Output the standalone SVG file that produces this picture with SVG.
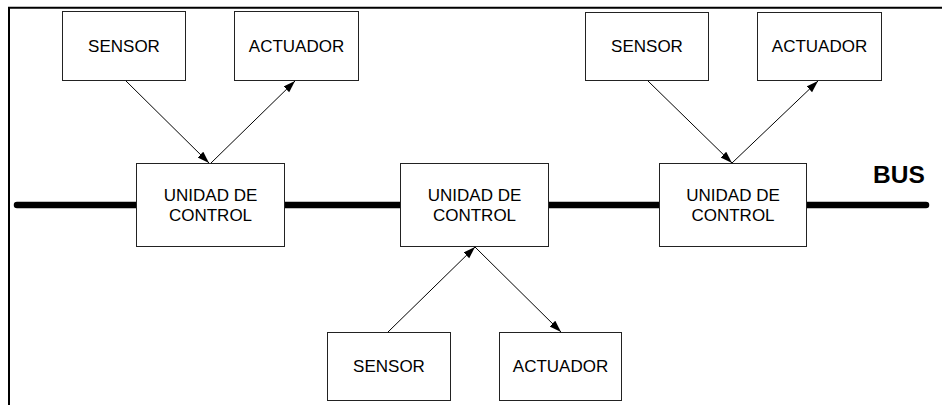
<svg xmlns="http://www.w3.org/2000/svg" width="942" height="405" viewBox="0 0 942 405">
<style>
.box{fill:#fff;stroke:#222;stroke-width:1}
.t{font-family:"Liberation Sans",Arial,sans-serif;font-size:17px;fill:#000;text-anchor:middle}
.bus{stroke:#000;stroke-width:6.5;stroke-linecap:round;fill:none}
.arr{stroke:#000;stroke-width:1;fill:none;marker-end:url(#ah)}
.frame{stroke:#000;stroke-width:2;fill:none}
</style>
<defs>
<marker id="ah" markerUnits="userSpaceOnUse" markerWidth="13" markerHeight="9" refX="12" refY="4" orient="auto">
<path d="M0,0 L12,4 L0,8 z" fill="#000"/>
</marker>
</defs>
<path class="frame" d="M9,405 L9,7.7 L942,7.7"/>
<g id="connectors">
<line class="bus" x1="17" y1="205" x2="136" y2="205"/>
<line class="bus" x1="284" y1="205" x2="400" y2="205"/>
<line class="bus" x1="549" y1="205" x2="659" y2="205"/>
<line class="bus" x1="807" y1="205" x2="926" y2="205"/>
<line class="arr" x1="125" y1="80" x2="209" y2="163"/>
<line class="arr" x1="211" y1="163" x2="295" y2="81"/>
<line class="arr" x1="388" y1="332" x2="475" y2="247"/>
<line class="arr" x1="475" y1="247" x2="561" y2="332"/>
<line class="arr" x1="648" y1="81" x2="732" y2="163"/>
<line class="arr" x1="732" y1="163" x2="818" y2="81"/>
</g>
<g id="sensor1"><rect class="box" x="62.5" y="11.5" width="123" height="69"/><text class="t" x="124" y="52">SENSOR</text></g>
<g id="actuador1"><rect class="box" x="234.5" y="11.5" width="124" height="69"/><text class="t" x="296.5" y="52">ACTUADOR</text></g>
<g id="unidad1"><rect class="box" x="136.5" y="163.5" width="148" height="83"/><text class="t" x="210.5" y="200.7">UNIDAD DE</text><text class="t" x="210.5" y="220.7">CONTROL</text></g>
<g id="unidad2"><rect class="box" x="400.5" y="163.5" width="148" height="83"/><text class="t" x="474.5" y="200.7">UNIDAD DE</text><text class="t" x="474.5" y="220.7">CONTROL</text></g>
<g id="unidad3"><rect class="box" x="659.5" y="163.5" width="147" height="83"/><text class="t" x="733" y="200.7">UNIDAD DE</text><text class="t" x="733" y="220.7">CONTROL</text></g>
<g id="sensor3"><rect class="box" x="585.5" y="12.5" width="123" height="68"/><text class="t" x="647" y="52">SENSOR</text></g>
<g id="actuador3"><rect class="box" x="757.5" y="12.5" width="124" height="68"/><text class="t" x="819.5" y="52">ACTUADOR</text></g>
<g id="sensor2"><rect class="box" x="327.5" y="332.5" width="123" height="68"/><text class="t" x="389" y="372.3">SENSOR</text></g>
<g id="actuador2"><rect class="box" x="499.5" y="332.5" width="122" height="68"/><text class="t" x="560.5" y="372.3">ACTUADOR</text></g>
<g id="buslabel"><text x="873" y="183.3" style="font-family:'Liberation Sans',Arial,sans-serif;font-size:24.5px;font-weight:bold">BUS</text></g>
</svg>
